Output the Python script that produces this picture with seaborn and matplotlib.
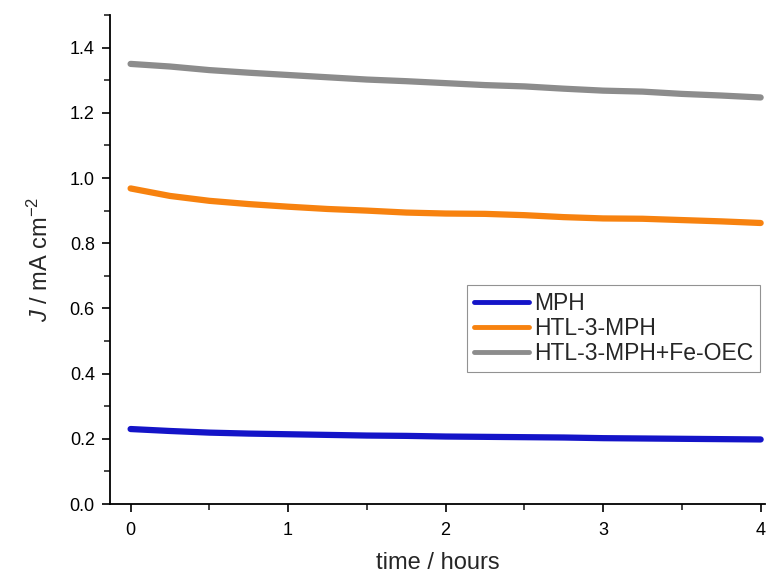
import numpy as np
import pandas as pd
import matplotlib
matplotlib.use("Agg")
import matplotlib.pyplot as plt
import seaborn as sns
from matplotlib.ticker import MultipleLocator

time_h = [0.0, 0.25, 0.5, 0.75, 1.0, 1.25, 1.5, 1.75, 2.0, 2.25, 2.5, 2.75, 3.0, 3.25, 3.5, 3.75, 4.0]
mph = [0.230, 0.224, 0.219, 0.216, 0.214, 0.212, 0.210, 0.209, 0.207, 0.206, 0.205, 0.204, 0.202, 0.201, 0.200, 0.199, 0.198]
htl = [0.968, 0.945, 0.930, 0.920, 0.912, 0.905, 0.900, 0.894, 0.891, 0.890, 0.886, 0.880, 0.876, 0.875, 0.871, 0.867, 0.862]
htl_fe = [1.350, 1.342, 1.331, 1.323, 1.316, 1.309, 1.302, 1.297, 1.291, 1.285, 1.281, 1.274, 1.268, 1.265, 1.258, 1.253, 1.247]
labels = ["MPH", "HTL-3-MPH", "HTL-3-MPH+Fe-OEC"]
colors = ["#1414c8", "#f7820f", "#8c8c8c"]

df = pd.concat([
    pd.DataFrame({"t": time_h, "J": v, "sample": lab})
    for v, lab in zip([mph, htl, htl_fe], labels)
])

sns.set_style("ticks")
plt.rcParams["font.family"] = ["Liberation Sans", "DejaVu Sans"]
plt.rcParams["mathtext.fontset"] = "custom"
plt.rcParams["mathtext.rm"] = "Liberation Sans"
plt.rcParams["mathtext.it"] = "Liberation Sans:italic"

fig = plt.figure(figsize=(7.7, 5.77), dpi=100)
ax = fig.add_axes([0.143, 0.1265, 0.851, 0.8475])
sns.lineplot(data=df, x="t", y="J", hue="sample", palette=dict(zip(labels, colors)),
             linewidth=4.5, ax=ax, legend=True)

ax.set_xlim(-0.13, 4.03)
ax.set_ylim(0, 1.5)
ax.xaxis.set_major_locator(MultipleLocator(1))
ax.xaxis.set_minor_locator(MultipleLocator(0.5))
ax.yaxis.set_minor_locator(MultipleLocator(0.1))
ax.set_yticks([0, 0.2, 0.4, 0.6, 0.8, 1.0, 1.2, 1.4])
ax.set_yticklabels(["0.0", "0.2", "0.4", "0.6", "0.8", "1.0", "1.2", "1.4"])
ax.tick_params(axis="both", which="major", direction="out", length=6, width=1.2, labelsize=13, colors="black")
ax.tick_params(axis="x", which="major", pad=7)
ax.tick_params(axis="y", which="major", pad=5)
ax.tick_params(axis="both", which="minor", direction="out", length=4, width=1.2)
for s in ["top", "right"]:
    ax.spines[s].set_visible(False)
for s in ["left", "bottom"]:
    ax.spines[s].set_linewidth(1.3)
    ax.spines[s].set_color("black")

ax.set_xlabel("time / hours", fontsize=17, labelpad=9)
ax.set_ylabel(r"$\it{J}$ / mA cm$^{-2}$", fontsize=17, labelpad=12)

leg = ax.legend(loc="upper left", bbox_to_anchor=(0.545, 0.448), frameon=True, fancybox=False,
                fontsize=16.5, handlelength=2.4, handletextpad=0.2, borderpad=0.3,
                labelspacing=0.1, borderaxespad=0, edgecolor="#777777")
leg.get_frame().set_linewidth(0.8)
for line in leg.get_lines():
    line.set_linewidth(3.5)

fig.savefig("out.png", dpi=100)
